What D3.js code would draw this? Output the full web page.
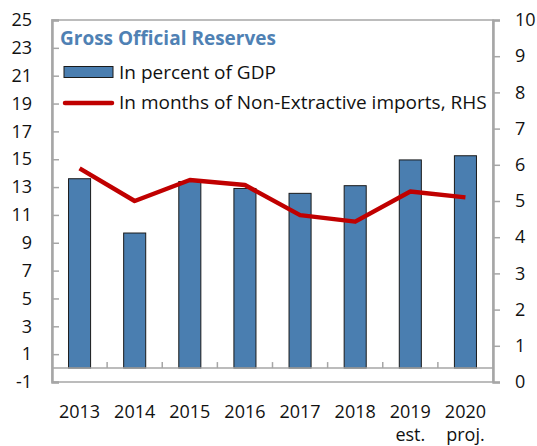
<!DOCTYPE html>
<html>
<head>
<meta charset="utf-8">
<title>Gross Official Reserves</title>
<script src="https://cdnjs.cloudflare.com/ajax/libs/d3/7.8.5/d3.min.js"></script>
<style>
  body { margin: 0; background: #fff; }
  svg text { font-family: "Open Sans", "Noto Sans", sans-serif; fill: #111; }
</style>
</head>
<body>
<div id="chart"></div>
<script>
// data
var years = ['2013', '2014', '2015', '2016', '2017', '2018', '2019', '2020'];
var subLabels = ['', '', '', '', '', '', 'est.', 'proj.'];
var pctGdp = [13.6, 9.7, 13.4, 12.9, 12.55, 13.1, 14.95, 15.25];
var monthsImports = [5.9, 5.0, 5.58, 5.44, 4.61, 4.43, 5.26, 5.1];
var leftTicks = [-1, 1, 3, 5, 7, 9, 11, 13, 15, 17, 19, 21, 23, 25];
var rightTicks = [0, 1, 2, 3, 4, 5, 6, 7, 8, 9, 10];

var width = 537, height = 446;
// plot box (note: "top" is a reserved window property, so use a prefix)
var pL = 52, pR = 493, pT = 20, pB = 382;
var barColor = '#4a7eb0', lineColor = '#c00000', gridGray = '#a6a6a6';

var svg = d3.select('#chart').append('svg')
    .attr('width', width)
    .attr('height', height);

var x = d3.scaleBand().domain(years).range([pL, pR])
    .paddingInner(0.6).paddingOuter(0.3);
var yL = d3.scaleLinear().domain([-1, 25]).range([pB, pT]);
var yR = d3.scaleLinear().domain([0, 10]).range([pB, pT]);

// plot frame
svg.append('rect')
    .attr('x', pL).attr('y', pT)
    .attr('width', pR - pL).attr('height', pB - pT)
    .attr('fill', 'none')
    .attr('stroke', gridGray)
    .attr('stroke-width', 1.5);

// bars
svg.selectAll('.bar').data(years).enter().append('rect')
    .attr('class', 'bar')
    .attr('x', function(d) { return x(d); })
    .attr('y', function(d, i) { return yL(pctGdp[i]); })
    .attr('width', x.bandwidth())
    .attr('height', function(d, i) { return yL(0) - yL(pctGdp[i]); })
    .attr('fill', barColor)
    .attr('stroke', '#1a1a1a')
    .attr('stroke-width', 1);

// zero line with category ticks
svg.append('line')
    .attr('x1', pL).attr('x2', pR)
    .attr('y1', yL(0)).attr('y2', yL(0))
    .attr('stroke', gridGray).attr('stroke-width', 1.5);
svg.selectAll('.cat-tick').data(years.slice(1)).enter().append('line')
    .attr('class', 'cat-tick')
    .attr('x1', function(d) { return x(d) - x.step() * 0.3; })
    .attr('x2', function(d) { return x(d) - x.step() * 0.3; })
    .attr('y1', yL(0)).attr('y2', yL(0) - 6)
    .attr('stroke', gridGray).attr('stroke-width', 1.5);

// left axis, ticks pointing inward; plain hyphen for negatives
var leftAxis = d3.axisRight(yL).tickValues(leftTicks).tickSize(7)
    .tickFormat(function(d) { return String(d); });
var gL = svg.append('g').attr('transform', 'translate(' + pL + ',0)').call(leftAxis);
gL.select('.domain').attr('stroke', gridGray).attr('stroke-width', 2.5);
gL.selectAll('.tick line').attr('stroke', gridGray).attr('stroke-width', 1.5);
gL.selectAll('.tick text')
    .attr('x', -20).attr('text-anchor', 'end')
    .style('font-size', '18px').attr('fill', '#111');

// right axis
var rightAxis = d3.axisRight(yR).tickValues(rightTicks).tickSize(7)
    .tickFormat(function(d) { return String(d); });
var gR = svg.append('g').attr('transform', 'translate(' + pR + ',0)').call(rightAxis);
gR.select('.domain').attr('stroke', gridGray).attr('stroke-width', 2.5);
gR.selectAll('.tick line').attr('stroke', gridGray).attr('stroke-width', 1.5);
gR.selectAll('.tick text')
    .attr('x', 22).attr('text-anchor', 'start')
    .style('font-size', '18px').attr('fill', '#111');

// line on RHS
var line = d3.line()
    .x(function(d, i) { return x(years[i]) + x.bandwidth() / 2; })
    .y(function(d) { return yR(d); });
svg.append('path')
    .datum(monthsImports)
    .attr('d', line)
    .attr('fill', 'none')
    .attr('stroke', lineColor)
    .attr('stroke-width', 4.5)
    .attr('stroke-linejoin', 'round');

// x labels
svg.selectAll('.xlab').data(years).enter().append('text')
    .attr('class', 'xlab')
    .attr('x', function(d) { return x(d) + x.bandwidth() / 2; })
    .attr('y', 418)
    .attr('text-anchor', 'middle')
    .style('font-size', '18px')
    .text(function(d) { return d; });
svg.selectAll('.xsub').data(years).enter().append('text')
    .attr('class', 'xsub')
    .attr('x', function(d) { return x(d) + x.bandwidth() / 2; })
    .attr('y', 441)
    .attr('text-anchor', 'middle')
    .style('font-size', '18px')
    .text(function(d, i) { return subLabels[i]; });

// title + legend
svg.append('text')
    .attr('x', 60).attr('y', 45)
    .style('font-size', '19px').style('font-weight', 'bold')
    .style('fill', '#4f81b4')
    .text('Gross Official Reserves');

svg.append('rect')
    .attr('x', 64).attr('y', 66.5).attr('width', 49).attr('height', 11)
    .attr('fill', barColor).attr('stroke', '#1a1a1a').attr('stroke-width', 1);
svg.append('text')
    .attr('x', 119).attr('y', 79)
    .style('font-size', '19px')
    .text('In percent of GDP');

svg.append('line')
    .attr('x1', 65).attr('x2', 112).attr('y1', 103).attr('y2', 103)
    .attr('stroke', lineColor).attr('stroke-width', 4.5).attr('stroke-linecap', 'round');
svg.append('text')
    .attr('x', 119).attr('y', 109)
    .style('font-size', '19px')
    .text('In months of Non-Extractive imports, RHS');
</script>
</body>
</html>
